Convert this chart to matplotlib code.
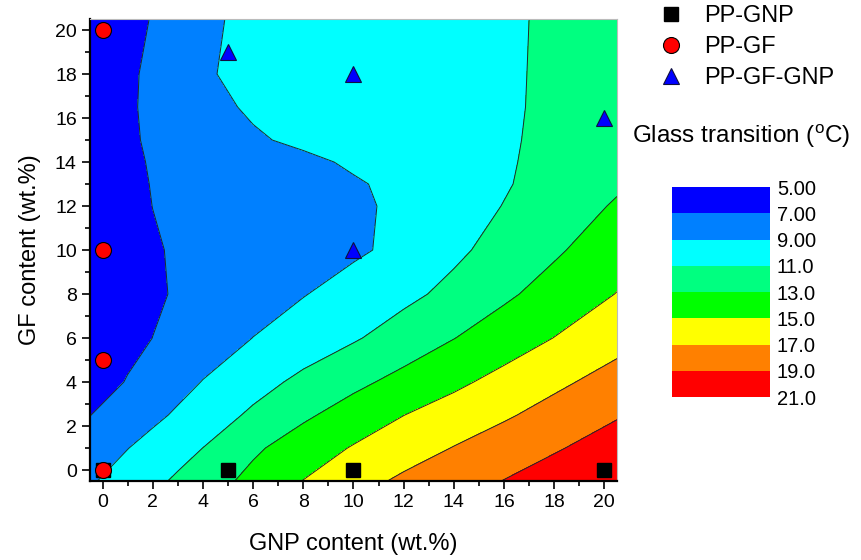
import numpy as np
import matplotlib
matplotlib.use("Agg")
from matplotlib import pyplot as plt

plt.rcParams['font.family'] = ['Liberation Sans', 'DejaVu Sans']

# grid (GNP along x, GF along y), Tg in degC
gnp = [-0.5, 1, 2, 3, 4, 6, 8, 10, 12, 14, 16, 18, 20.5]
gf = [-0.5, 1, 2.5, 4, 6, 8, 10, 12, 13, 14, 15, 16.5, 18, 20.5]
tg = [
    [8.79, 9.85, 10.56, 11.29, 12.04, 13.55, 15.04, 16.27, 17.35, 18.20, 19.05, 19.90, 20.80],
    [7.93, 8.96, 9.64, 10.32, 11.01, 12.68, 13.98, 15.14, 16.11, 17.07, 17.94, 18.81, 19.89],
    [6.97, 7.94, 8.59, 9.25, 9.94, 11.32, 12.68, 13.86, 14.98, 15.87, 16.76, 17.68, 18.85],
    [6.11, 7.10, 7.75, 8.41, 9.06, 10.29, 11.45, 12.54, 13.59, 14.60, 15.61, 16.61, 17.75],
    [5.75, 6.51, 7.01, 7.51, 8.01, 9.02, 9.91, 10.81, 11.87, 12.96, 14.00, 15.03, 16.34],
    [5.80, 6.37, 6.77, 7.15, 7.50, 8.21, 8.92, 9.72, 10.54, 11.50, 12.67, 13.75, 15.05],
    [5.99, 6.52, 6.87, 7.15, 7.38, 7.85, 8.32, 8.72, 9.45, 10.63, 11.68, 12.73, 14.12],
    [6.02, 6.62, 7.01, 7.23, 7.45, 7.90, 8.34, 8.78, 9.25, 10.22, 11.05, 12.00, 13.19],
    [6.05, 6.69, 7.05, 7.28, 7.50, 7.95, 8.40, 8.85, 9.35, 10.15, 10.85, 11.68, 12.75],
    [6.10, 6.75, 7.10, 7.37, 7.63, 8.15, 8.68, 9.20, 9.73, 10.26, 10.80, 11.53, 12.60],
    [6.10, 6.79, 7.20, 7.60, 8.01, 8.82, 9.29, 9.67, 10.04, 10.42, 10.79, 11.39, 12.40],
    [6.05, 6.76, 7.36, 7.95, 8.55, 9.20, 9.52, 9.84, 10.16, 10.47, 10.79, 11.28, 12.10],
    [6.00, 6.69, 7.37, 8.13, 8.89, 9.28, 9.58, 9.89, 10.19, 10.49, 10.79, 11.25, 12.00],
    [5.80, 6.46, 7.09, 7.94, 8.79, 9.27, 9.58, 9.88, 10.19, 10.50, 10.80, 11.20, 11.90],
]
levels = [5, 7, 9, 11, 13, 15, 17, 19, 21]
level_labels = ['5.00', '7.00', '9.00', '11.0', '13.0', '15.0', '17.0', '19.0', '21.0']
colors = ['#0000ff', '#0080ff', '#00ffff', '#00ff80', '#00ff00', '#ffff00', '#ff8000', '#ff0000']

# measured samples
gnp_x = [0, 5, 10, 20]
gnp_y = [0, 0, 0, 0]
gf_x = [0, 0, 0, 0]
gf_y = [0, 5, 10, 20]
hyb_x = [5, 10, 10, 20]
hyb_y = [19, 18, 10, 16]

fig = plt.figure(figsize=(8.61, 5.6), dpi=100)
ax = fig.add_axes([0.1045, 0.141, 0.612, 0.825])

X, Y = np.meshgrid(gnp, gf)
Z = np.array(tg)
cf = ax.contourf(X, Y, Z, levels=levels, colors=colors)
ax.contour(X, Y, Z, levels=levels[1:-1], colors='#1e2a2a', linewidths=0.7)

ax.plot(gnp_x, gnp_y, 's', color='black', markersize=9.5, label='PP-GNP', clip_on=False, zorder=5)
ax.plot(gf_x, gf_y, 'o', color='red', markeredgecolor='black', markeredgewidth=0.8,
        markersize=11.5, label='PP-GF', clip_on=False, zorder=6)
ax.plot(hyb_x, hyb_y, '^', color='#0000ff', markeredgecolor='#101040', markeredgewidth=0.8,
        markersize=12, label='PP-GF-GNP', clip_on=False, zorder=6)

ax.set_xlim(-0.5, 20.5)
ax.set_ylim(-0.5, 20.5)
ax.set_xticks(range(0, 21, 2))
ax.set_yticks(range(0, 21, 2))
ax.set_xticks(range(0, 21), minor=True)
ax.set_yticks(range(0, 21), minor=True)
ax.tick_params(which='major', direction='out', length=6, width=1.2, labelsize=14,
               top=False, right=False)
ax.tick_params(which='minor', direction='out', length=3.5, width=1.2, top=False, right=False)
for s in ['left', 'bottom']:
    ax.spines[s].set_linewidth(1.6)
for s in ['top', 'right']:
    ax.spines[s].set_color('#bbbbbb')
    ax.spines[s].set_linewidth(0.8)
ax.set_xlabel('GNP content (wt.%)', fontsize=17, labelpad=16)
ax.set_ylabel('GF content (wt.%)', fontsize=17, labelpad=10)

fig.legend(loc='upper left', bbox_to_anchor=(0.752, 1.008), frameon=False, fontsize=17,
           handlelength=1.2, handletextpad=0.8, labelspacing=0.38, borderaxespad=0)

cax = fig.add_axes([0.7805, 0.291, 0.1138, 0.375])
cb = fig.colorbar(cf, cax=cax, ticks=levels)
cb.ax.invert_yaxis()
cb.ax.set_yticklabels(level_labels)
cb.ax.tick_params(length=0, labelsize=14.5, pad=5)
cb.outline.set_visible(False)
fig.text(0.861, 0.757, 'Glass transition ($^\\mathregular{o}$C)', fontsize=17.5,
         ha='center', va='center')

fig.savefig('out.png', dpi=100)
